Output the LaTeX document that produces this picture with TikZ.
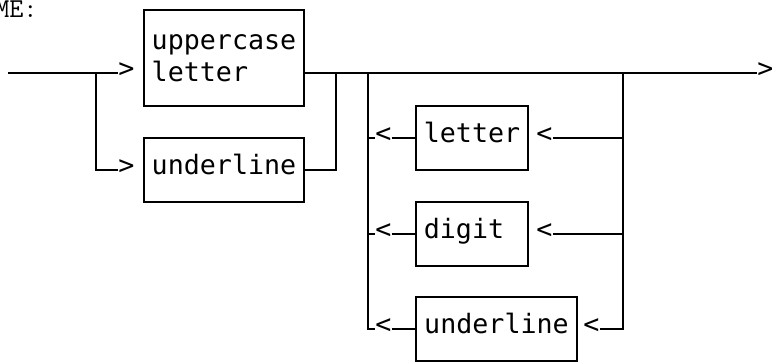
\documentclass[tikz,border=0pt]{standalone}
\usepackage{fontspec}
\newfontfamily\chartmono{DejaVu Sans Mono}
\tikzset{
  wire/.style={line width=1.5pt},
  term/.style={draw, line width=1.5pt, inner xsep=6pt, inner ysep=0pt,
    align=left, font=\chartmono\fontsize{20}{24}\selectfont},
  single/.style={term, text height=0.72em, text depth=0pt, minimum height=48pt},
  tip/.style={inner sep=0pt, anchor=west, text height=0.626em, text depth=0pt,
    font=\chartmono\fontsize{20}{24}\selectfont},
}
\begin{document}
\begin{tikzpicture}[x=0.75pt, y=-0.75pt]
\useasboundingbox (0,0) rectangle (772,362);

% heading
\node[anchor=base west, inner sep=0pt, font=\fontsize{20.5}{24}\selectfont\ttfamily] (title) at (-5,17) {ME:};

% first choice: uppercase letter | underline
\node[term, text width=108.4pt, minimum height=72pt] (b1) at (224,58) {uppercase\\letter};
\node[single, text width=108.4pt] (b2) at (224,170) {underline};

\coordinate (s)  at (8,73);
\coordinate (j1) at (96,73);
\coordinate (j2) at (336,73);
\coordinate (j3) at (368,73);
\coordinate (j4) at (623,73);

\node[tip] (a1) at (118,73) {>};
\node[tip] (a2) at (118,170) {>};
\node[tip] (aend) at (757,73) {>};

\draw[wire] (s) -- (a1.west);
\draw[wire] (j1) |- (a2.west);
\draw[wire] (b1.east |- s) -- (aend.west);
\draw[wire] (b2.east) -| (j2);

% repeated part: letter | digit | underline
\node[single, text width=72.2pt] (l1) at (472,138) {letter};
\node[single, text width=72.2pt] (l2) at (472,234) {digit};
\node[single, text width=108.4pt] (l3) at (496.5,329) {underline};

\node[tip] (c1) at (375,138) {<};
\node[tip] (c2) at (375,234) {<};
\node[tip] (c3) at (375,329) {<};

\node[tip] (d1) at (536,138) {<};
\node[tip] (d2) at (536,234) {<};
\node[tip] (d3) at (583,329) {<};

\draw[wire] (j3) |- (c3.west);
\draw[wire] (j3 |- c1.west) -- (c1.west);
\draw[wire] (j3 |- c2.west) -- (c2.west);

\draw[wire] (c1.east) -- (l1.west);
\draw[wire] (c2.east) -- (l2.west);
\draw[wire] (c3.east) -- (l3.west);

\draw[wire] (j4) |- (d3.east);
\draw[wire] (j4 |- d1.east) -- (d1.east);
\draw[wire] (j4 |- d2.east) -- (d2.east);
\end{tikzpicture}
\end{document}
